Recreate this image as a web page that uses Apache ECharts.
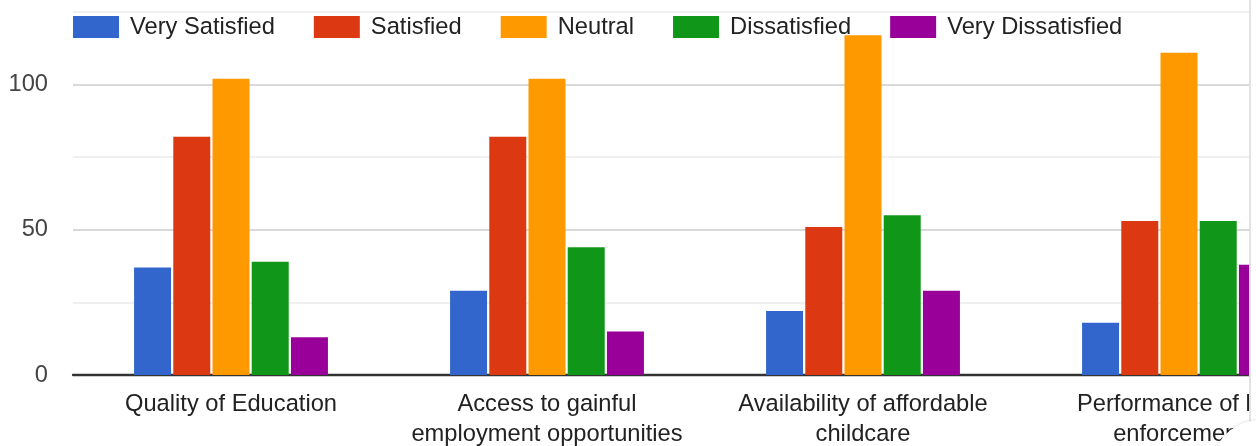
<!DOCTYPE html>
<html>
<head>
<meta charset="utf-8">
<script src="https://cdn.jsdelivr.net/npm/echarts@6/dist/echarts.min.js"></script>
<style>
  html, body { margin: 0; padding: 0; background: #fff; }
  .frame {
    position: relative;
    width: 1249px;
    height: 446px;
    overflow: hidden;
    border-right: 2px solid #e2e2e2;
  }
  #chart { width: 1400px; height: 446px; }
  .fab {
    position: absolute;
    left: 1212px;
    top: 420px;
    width: 96px;
    height: 96px;
    border-radius: 50%;
    background: #fff;
    box-shadow: 0 0 3px rgba(0, 0, 0, 0.18);
  }
</style>
</head>
<body>
<div class="frame">
  <div id="chart"></div>
</div>
<div class="fab"></div>

<script>
// categories (labels wrap like the original)
const categories = [
  'Quality of Education',
  'Access to gainful\nemployment opportunities',
  'Availability of affordable\nchildcare',
  'Performance of law\nenforcement'
]

// responses per category
const verySatisfied = [37, 29, 22, 18]
const satisfied = [82, 82, 51, 53]
const neutral = [102, 102, 117, 111]
const dissatisfied = [39, 44, 55, 53]
const veryDissatisfied = [13, 15, 29, 38]

const seriesNames = ['Very Satisfied', 'Satisfied', 'Neutral', 'Dissatisfied', 'Very Dissatisfied']
const yTickLabels = ['0', '50', '100']

// Google classic palette
const colors = ['#3366cc', '#dc3912', '#ff9900', '#109618', '#990099']
const font = 'Arial, "Liberation Sans", sans-serif'

const chart = echarts.init(document.getElementById('chart'))

const values = [verySatisfied, satisfied, neutral, dissatisfied, veryDissatisfied]

const option = {
  animation: false,
  color: colors,
  textStyle: { fontFamily: font },
  legend: {
    left: 73,
    top: 15,
    padding: 0,
    icon: 'rect',
    itemWidth: 46,
    itemHeight: 22,
    itemGap: 39,
    textStyle: {
      fontFamily: font,
      fontSize: 23.7,
      color: '#222',
      padding: [0, 0, 0, 6]
    },
    data: seriesNames
  },
  grid: {
    left: 73,
    right: 63,
    top: 12,
    bottom: 71,
    containLabel: false,
    outerBoundsMode: 'none'
  },
  xAxis: {
    type: 'category',
    data: categories,
    axisLine: { lineStyle: { color: '#333', width: 2.3 } },
    axisTick: { show: false },
    axisLabel: {
      interval: 0,
      margin: 14,
      fontSize: 23.7,
      lineHeight: 30,
      color: '#222',
      fontFamily: font
    }
  },
  yAxis: {
    type: 'value',
    min: 0,
    max: 125,
    interval: 25,
    axisLine: { show: false },
    axisTick: { show: false },
    axisLabel: {
      margin: 25,
      fontSize: 23.7,
      color: '#444',
      fontFamily: font,
      padding: [4, 0, 0, 0],
      formatter: v => (yTickLabels.includes(String(v)) ? String(v) : '')
    },
    splitLine: {
      lineStyle: { color: ['#cccccc', '#ebebeb'], width: 1.7 }
    }
  },
  series: seriesNames.map((name, i) => ({
    name,
    type: 'bar',
    data: values[i],
    barWidth: 37,
    barGap: '6%',
    itemStyle: { color: colors[i] }
  }))
}

chart.setOption(option)
</script>
</body>
</html>
